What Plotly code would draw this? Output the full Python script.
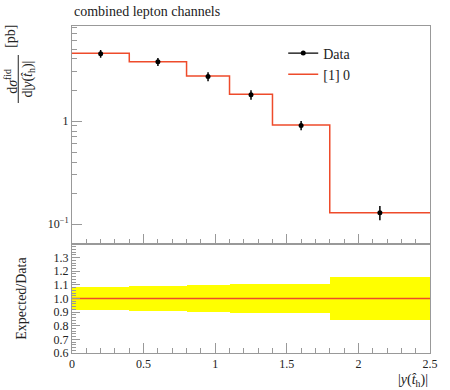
import plotly.graph_objects as go
import numpy as np

# ---- data ----
bin_edges = [0.0, 0.4, 0.8, 1.1, 1.4, 1.8, 2.5]
bin_centers = [0.2, 0.6, 0.95, 1.25, 1.6, 2.15]
model_vals = [4.54, 3.77, 2.73, 1.82, 0.914, 0.129]
data_vals = [4.50, 3.75, 2.70, 1.80, 0.905, 0.129]
data_rel_err = [0.086, 0.090, 0.100, 0.107, 0.103, 0.157]
ratio_vals = [1.0, 1.0, 1.0, 1.0, 1.0, 1.0]
main_ytick_vals = [0.1, 1]
main_ytick_text = ["10<sup>\u22121</sup>", "1"]
ratio_ytick_vals = [0.6, 0.7, 0.8, 0.9, 1.0, 1.1, 1.2, 1.3]
ratio_ytick_text = ["0.6", "0.7", "0.8", "0.9", "1.0", "1.1", "1.2", "1.3"]
xtick_vals = [0, 0.5, 1, 1.5, 2, 2.5]
xtick_text = ["0", "0.5", "1", "1.5", "2", "2.5"]

edges = np.array(bin_edges)
widths = edges[1:] - edges[:-1]
model = np.array(model_vals)
data = np.array(data_vals)
rel = np.array(data_rel_err)

RED = "#EE4B2B"
FONT = "Liberation Serif"
GRAY = "#999999"
TXT = "#222222"

fig = go.Figure()

# model histogram (main)
fig.add_trace(go.Scatter(
    x=list(edges), y=list(model) + [model[-1]], mode="lines",
    line=dict(color=RED, width=1.5, shape="hv"),
    xaxis="x", yaxis="y", showlegend=False, hoverinfo="skip"))

# data points
fig.add_trace(go.Scatter(
    x=bin_centers, y=list(data), mode="markers",
    marker=dict(color="black", size=5),
    error_y=dict(type="data", array=list(data * rel), color="black",
                 thickness=1.5, width=0),
    xaxis="x", yaxis="y", showlegend=False))

# legend entries
fig.add_trace(go.Scatter(x=[None], y=[None], mode="lines+markers", name="Data",
                         line=dict(color="black", width=1.3),
                         marker=dict(color="black", size=5),
                         xaxis="x", yaxis="y"))
fig.add_trace(go.Scatter(x=[None], y=[None], mode="lines", name="[1] 0",
                         line=dict(color=RED, width=1.3),
                         xaxis="x", yaxis="y"))

# ratio band (data uncertainty)
fig.add_trace(go.Bar(
    x=bin_centers, y=list(2 * rel), base=list(1 - rel), width=list(widths),
    marker=dict(color="#FFFF00", line=dict(width=0)),
    xaxis="x2", yaxis="y2", showlegend=False, hoverinfo="skip"))

# ratio line
fig.add_trace(go.Scatter(
    x=list(edges), y=ratio_vals + [ratio_vals[-1]], mode="lines",
    line=dict(color=RED, width=1.5, shape="hv"),
    xaxis="x2", yaxis="y2", showlegend=False))

axis_common = dict(showline=True, linecolor=GRAY, linewidth=1, mirror=True,
                   ticks="inside", tickcolor=GRAY, showgrid=False, zeroline=False,
                   tickfont=dict(family=FONT, size=12, color=TXT))

fig.update_layout(
    width=450, height=390,
    margin=dict(l=72, r=15, t=26, b=37),
    paper_bgcolor="white", plot_bgcolor="white",
    font=dict(family=FONT, size=14, color=TXT),
    bargap=0,
    xaxis=dict(domain=[0, 1], range=[0, 2.5], anchor="y", showticklabels=False,
               tickvals=xtick_vals, ticklen=10,
               minor=dict(dtick=0.1, tick0=0, ticklen=5, ticks="inside", tickcolor=GRAY),
               **axis_common),
    yaxis=dict(domain=[0.3333, 1], type="log",
               range=[np.log10(0.064), np.log10(8.36)], anchor="x",
               tickvals=main_ytick_vals, ticktext=main_ytick_text, ticklen=10,
               minor=dict(tickvals=[v * d for d in (0.1, 1) for v in range(2, 10)],
                          ticklen=5, ticks="inside", tickcolor=GRAY),
               **axis_common),
    xaxis2=dict(domain=[0, 1], range=[0, 2.5], anchor="y2",
                tickvals=xtick_vals, ticktext=xtick_text, ticklen=10,
                minor=dict(dtick=0.1, tick0=0, ticklen=5, ticks="inside", tickcolor=GRAY),
                **axis_common),
    yaxis2=dict(domain=[0, 0.3333], range=[0.6, 1.4], anchor="x2",
                tickvals=ratio_ytick_vals, ticktext=ratio_ytick_text, ticklen=8,
                minor=dict(dtick=0.02, tick0=0.6, ticklen=4, ticks="inside", tickcolor=GRAY),
                **axis_common),
    legend=dict(x=0.59, y=0.965, xanchor="left", yanchor="top",
                bgcolor="rgba(0,0,0,0)", font=dict(family=FONT, size=14),
                tracegroupgap=0, itemwidth=30),
)

def px_x(px):
    return (px - 72) / 363.0

def px_y(py):
    return (353 - py) / 327.0

ann = [
    dict(text="combined lepton channels", x=0, y=px_y(12), xanchor="left",
         yanchor="middle", font=dict(size=14)),
    dict(text="d<i>\u03c3</i><sup>fid</sup>", x=px_x(10), y=px_y(81),
         textangle=-90, xanchor="center", yanchor="middle", font=dict(size=14)),
    dict(text="d|<i>y</i>(<i>t\u0302</i><sub>h</sub>)|", x=px_x(27), y=px_y(79),
         textangle=-90, xanchor="center", yanchor="middle", font=dict(size=14)),
    dict(text="[pb]", x=px_x(10), y=px_y(36),
         textangle=-90, xanchor="center", yanchor="middle", font=dict(size=14)),
    dict(text="Expected/Data", x=px_x(20), y=px_y(298),
         textangle=-90, xanchor="center", yanchor="middle", font=dict(size=14)),
    dict(text="|<i>y</i>(<i>t\u0302</i><sub>h</sub>)|", x=1, y=px_y(370),
         xanchor="right", yanchor="top", font=dict(size=14)),
]
for a in ann:
    a.update(xref="paper", yref="paper", showarrow=False)
fig.update_layout(annotations=ann)

fig.add_shape(type="line", xref="paper", yref="paper",
              x0=px_x(17.5), x1=px_x(17.5), y0=px_y(55), y1=px_y(103),
              line=dict(color=TXT, width=1))

fig.write_html("out.html", config={"displayModeBar": False},
               post_script="document.body.style.margin='0';document.body.style.padding='0';")
